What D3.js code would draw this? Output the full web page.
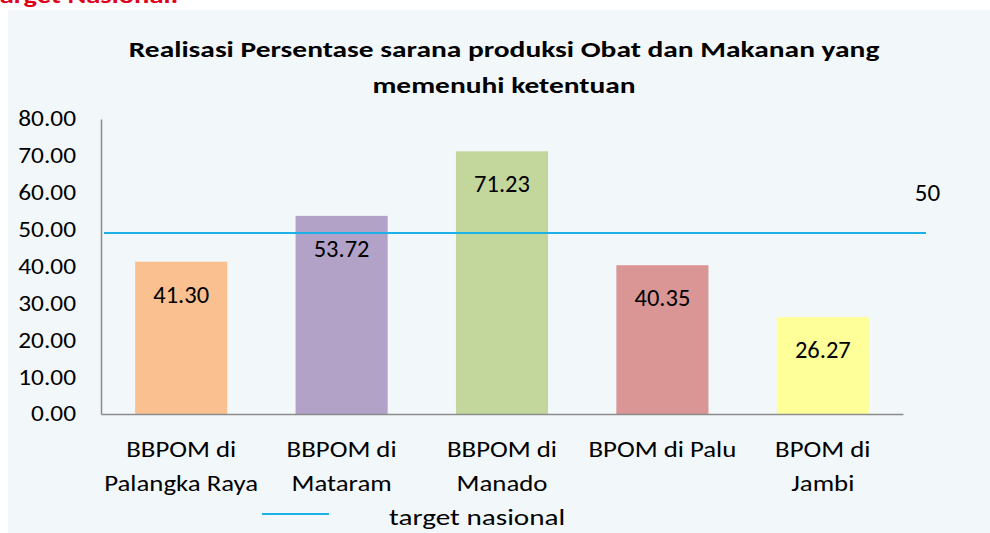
<!DOCTYPE html>
<html>
<head>
<meta charset="utf-8">
<script src="https://cdn.jsdelivr.net/npm/d3@7"></script>
<style>
  html, body { margin: 0; padding: 0; background: #fff; }
  svg { display: block; font-family: Carlito, Lato, "Open Sans", sans-serif; }
</style>
</head>
<body>
<svg id="chart" width="990" height="533"></svg>
<script>
// data
const categories = [
    ["BBPOM di", "Palangka Raya"],
    ["BBPOM di", "Mataram"],
    ["BBPOM di", "Manado"],
    ["BPOM di Palu"],
    ["BPOM di", "Jambi"]
]
const realisasi = [41.30, 53.72, 71.23, 40.35, 26.27]
const barColors = ["#FAC090", "#B3A2C7", "#C3D69B", "#D99694", "#FFFF99"]
const targetNasional = 50
const yTicks = [0, 10, 20, 30, 40, 50, 60, 70, 80]

const svg = d3.select("#chart")
const margin = {top: 119, right: 87, bottom: 119, left: 101}
const width = svg.attr("width") - margin.left - margin.right
const height = svg.attr("height") - margin.top - margin.bottom

// the source picture is stretched sideways, so most text is widened a bit
const SX = 1.22

// places a text at (px, py) and widens it
function stretch(sel, px, py, sx) {
    sel.attr("x", 0).attr("y", 0)
        .attr("transform", "translate(" + px + "," + py + ") scale(" + (sx || SX) + ",1)")
    return sel
}

// red heading of the page, cut off at the top
svg.append("text")
    .style("font-size", "22px")
    .style("font-weight", "bold")
    .attr("fill", "#E0001A")
    .text("target Nasional:")
    .call(stretch, -10, 3, 1.3)

// chart area
svg.append("rect")
    .attr("x", 8)
    .attr("y", 10)
    .attr("width", 990 - 8)
    .attr("height", 533 - 10)
    .attr("fill", "#F2F7FA")

svg.append("text")
    .attr("text-anchor", "middle")
    .style("font-size", "23px")
    .style("font-weight", "bold")
    .attr("fill", "#000")
    .call(stretch, 504, 0, 1.28)
    .selectAll("tspan")
    .data(["Realisasi Persentase sarana produksi Obat dan Makanan yang", "memenuhi ketentuan"])
    .enter().append("tspan")
    .attr("x", 0)
    .attr("y", (d, i) => 57 + i * 36)
    .text(d => d)

const g = svg.append("g").attr("transform", "translate(" + margin.left + "," + margin.top + ")")

const x = d3.scaleBand()
    .domain(d3.range(categories.length))
    .range([0, width])
    .paddingInner(0.426)
    .paddingOuter(0.213)

const y = d3.scaleLinear().domain([0, 80]).range([height, 0])
// the target line sits on a hidden secondary axis in the original workbook
const y2 = d3.scaleLinear().domain([0, 81.5]).range([height, 0])

// y axis
const yAxis = g.append("g")
    .call(d3.axisLeft(y).tickValues(yTicks).tickSize(0).tickPadding(25).tickFormat(d3.format(".2f")))
yAxis.select(".domain").attr("stroke", "#8C8C8C").attr("stroke-width", 1.5)
yAxis.selectAll("text")
    .style("font-size", "21.5px")
    .style("font-family", "Carlito, Lato, sans-serif")
    .attr("fill", "#000")
    .attr("transform", "translate(-25,0) scale(1.18,1)")
    .attr("x", 0)

// bars
g.selectAll(".bar")
    .data(realisasi)
    .enter().append("rect")
    .attr("class", "bar")
    .attr("x", (d, i) => x(i))
    .attr("y", d => y(d))
    .attr("width", x.bandwidth())
    .attr("height", d => height - y(d))
    .attr("fill", (d, i) => barColors[i])

g.selectAll(".label")
    .data(realisasi)
    .enter().append("text")
    .attr("class", "label")
    .attr("text-anchor", "middle")
    .style("font-size", "24px")
    .attr("fill", "#000")
    .text(d => d3.format(".2f")(d))
    .each(function(d, i) {
        d3.select(this).call(stretch, x(i) + x.bandwidth() / 2, y(d) + 41, 1.02)
    })

// x axis
const xAxis = g.append("g")
    .attr("transform", "translate(0," + height + ")")
    .call(d3.axisBottom(x).tickSize(0).tickFormat(""))
xAxis.select(".domain").attr("stroke", "#8C8C8C").attr("stroke-width", 1.5)

g.selectAll(".cat")
    .data(categories)
    .enter().append("text")
    .attr("class", "cat")
    .attr("text-anchor", "middle")
    .style("font-size", "22px")
    .attr("fill", "#000")
    .each(function(lines, i) {
        d3.select(this).call(stretch, x(i) + x.bandwidth() / 2, height + 43)
            .selectAll("tspan")
            .data(lines)
            .enter().append("tspan")
            .attr("x", 0)
            .attr("y", (d, j) => j * 34)
            .text(d => d)
    })

// target line
g.append("line")
    .attr("x1", 3)
    .attr("x2", 825)
    .attr("y1", y2(targetNasional))
    .attr("y2", y2(targetNasional))
    .attr("stroke", "#1CB2E8")
    .attr("stroke-width", 2)

g.append("text")
    .attr("text-anchor", "middle")
    .style("font-size", "25px")
    .attr("fill", "#000")
    .text(targetNasional)
    .call(stretch, 826.5, y2(targetNasional) - 32, 1.0)

// legend
const legend = svg.append("g")
legend.append("line")
    .attr("x1", 262).attr("x2", 329)
    .attr("y1", 514).attr("y2", 514)
    .attr("stroke", "#1CB2E8")
    .attr("stroke-width", 2)
legend.append("text")
    .style("font-size", "23px")
    .attr("fill", "#000")
    .text("target nasional")
    .call(stretch, 389, 525, 1.27)
</script>
</body>
</html>
